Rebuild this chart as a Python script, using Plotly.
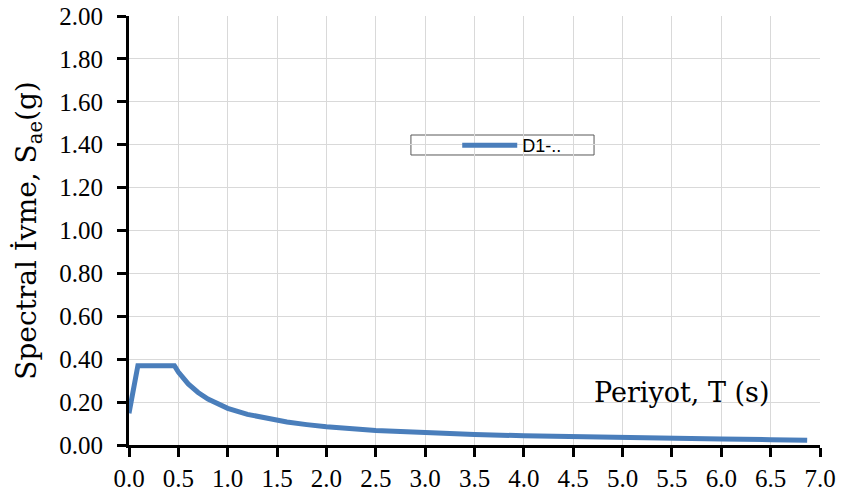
import plotly.graph_objects as go

# periyot T (s) and spectral acceleration Sae (g)
T_s = [0.0, 0.09, 0.46, 0.5, 0.6, 0.7, 0.8, 0.9, 1.0, 1.2, 1.4, 1.6, 1.8, 2.0,
       2.5, 3.0, 3.5, 4.0, 4.5, 5.0, 5.5, 6.0, 6.5, 6.87]
Sae_g = [0.148, 0.37, 0.37, 0.34, 0.285, 0.245, 0.214, 0.19, 0.171, 0.143, 0.122,
         0.107, 0.095, 0.085, 0.068, 0.057, 0.049, 0.043, 0.038, 0.034, 0.031,
         0.028, 0.025, 0.022]
series_name = 'D1-..'

x_ticks = [0.0, 0.5, 1.0, 1.5, 2.0, 2.5, 3.0, 3.5, 4.0, 4.5, 5.0, 5.5, 6.0, 6.5, 7.0]
y_ticks = [0.0, 0.2, 0.4, 0.6, 0.8, 1.0, 1.2, 1.4, 1.6, 1.8, 2.0]

serif = 'Liberation Serif'
title_font = 'DejaVu Serif'
blue = '#4a7ebb'

fig = go.Figure()
fig.add_trace(go.Scatter(x=T_s, y=Sae_g, mode='lines', name=series_name,
                         line=dict(color=blue, width=5)))

fig.update_layout(
    width=841, height=497,
    margin=dict(l=129, r=21, t=16, b=52),
    paper_bgcolor='white', plot_bgcolor='white',
    font=dict(family=serif, size=25, color='black'),
    showlegend=True,
    legend=dict(x=0.475, y=0.741, xanchor='left', yanchor='top',
                bgcolor='rgba(0,0,0,0)', borderwidth=0, itemwidth=55,
                font=dict(family='Liberation Sans', size=18, color='black')),
    xaxis=dict(range=[0, 7], tickvals=x_ticks, tickformat='.1f',
               showgrid=True, gridcolor='#d9d9d9', gridwidth=1,
               showline=True, linecolor='black', linewidth=3,
               ticks='outside', ticklen=9, tickwidth=3, tickcolor='black',
               ticklabelstandoff=0, ticklabeloverflow='allow',
               zeroline=False, automargin=False),
    yaxis=dict(range=[0, 2], tickvals=y_ticks, tickformat='.2f',
               showgrid=True, gridcolor='#d9d9d9', gridwidth=1,
               showline=True, linecolor='black', linewidth=3,
               ticks='outside', ticklen=9, tickwidth=3, tickcolor='black',
               ticklabelstandoff=9, ticklabeloverflow='allow',
               zeroline=False, automargin=False,
               title=dict(text='Spectral İvme, S<sub>ae</sub>(g)',
                          font=dict(family=title_font, size=28), standoff=15)),
)

# legend frame
fig.add_shape(type='rect', xref='paper', yref='paper',
              x0=0.408, x1=0.673, y0=0.676, y1=0.7226,
              line=dict(color='#595959', width=1), fillcolor='white', layer='below')

# x axis title sits inside the plot area
fig.add_annotation(text='Periyot, T (s)', xref='paper', yref='paper',
                   x=0.801, y=0.122, xanchor='center', yanchor='middle',
                   showarrow=False,
                   font=dict(family=title_font, size=27, color='black'))

# drop the default 8px body margin so the figure sits at the page corner
fig.write_html('out.html', config={'displayModeBar': False},
               post_script="document.body.style.margin = '0';")
